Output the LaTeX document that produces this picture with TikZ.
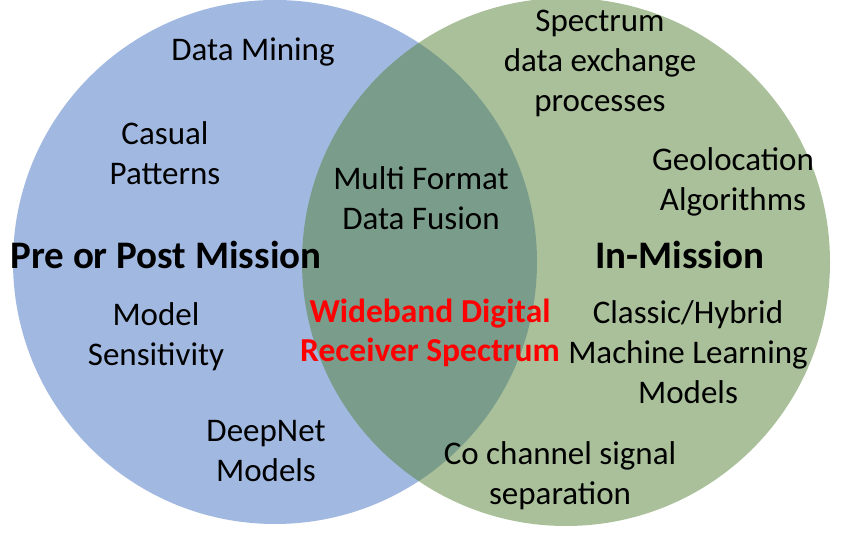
\documentclass[tikz,border=0pt]{standalone}
\usepackage{fontspec}
\setmainfont{Carlito}
\usepackage{xcolor}
\definecolor{preblue}{HTML}{4472C4}
\definecolor{ingreen}{HTML}{548235}

\begin{document}
\begin{tikzpicture}[x=1pt, y=-1pt,
    item/.style={align=center, inner sep=0pt, font=\fontsize{33}{40}\selectfont},
    title/.style={align=center, inner sep=0pt, font=\fontsize{39}{46}\selectfont\bfseries},
    core/.style={align=center, inner sep=0pt, text=red, font=\fontsize{33.5}{39}\selectfont\bfseries}]

\useasboundingbox (0,0) rectangle (849,534);

\fill[preblue, fill opacity=0.5] (275,262) circle (262);
\fill[ingreen, fill opacity=0.5] (566,262) circle (264);

\node[title] (pre) at (166,255) {Pre or Post Mission};
\node[title] (in)  at (680,255) {In-Mission};

\node[item] (mining)  at (253,52)  {Data Mining};
\node[item] (casual)  at (165,153) {Casual\\Patterns};
\node[item] (model)   at (156,337) {Model\\Sensitivity};
\node[item] (deepnet) at (266,451) {DeepNet\\Models};
\node[item] (fusion)  at (421,198) {Multi Format\\Data Fusion};
\node[item] (spectrum) at (600,63) {Spectrum\\data exchange\\processes};
\node[item] (geo)     at (733,182) {Geolocation\\Algorithms};
\node[item] (ml)      at (688,352) {Classic/Hybrid\\Machine Learning\\Models};
\node[item] (cochan)  at (560,476) {Co channel signal\\separation};

\node[core] (wideband) at (430,333) {Wideband Digital\\Receiver Spectrum};
%
\end{tikzpicture}
\end{document}
